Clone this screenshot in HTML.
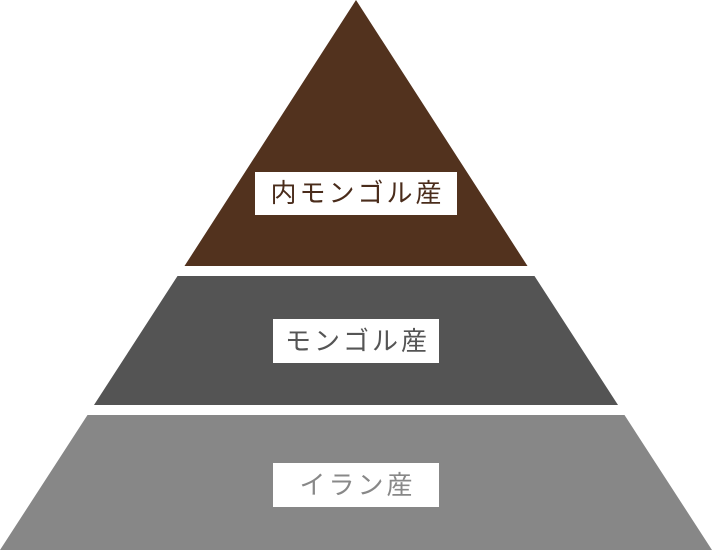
<!DOCTYPE html>
<html><head><meta charset="utf-8"><style>
html,body{margin:0;padding:0;background:#fff;}
body{width:712px;height:550px;position:relative;overflow:hidden;font-family:"Liberation Sans","Noto Sans CJK JP",sans-serif;}
svg{position:absolute;left:0;top:0;}
.b{position:absolute;background:#fff;text-align:center;font-size:26px;letter-spacing:3px;text-indent:3px;}
</style></head><body>
<svg width="712" height="550">
<polygon points="356,0 527.5,266 184.5,266" fill="#52321E"/>
<polygon points="177.5,276 534.5,276 618,405 94,405" fill="#545454"/>
<polygon points="87.5,415 624.5,415 712,550 0,550" fill="#878787"/>
</svg>
<div class="b" style="left:255px;top:172px;width:202px;height:43px;line-height:43px;color:#4a2c1b;">内モンゴル産</div>
<div class="b" style="left:273px;top:319px;width:166px;height:44px;line-height:44px;color:#555;">モンゴル産</div>
<div class="b" style="left:273px;top:463px;width:166px;height:44px;line-height:44px;color:#888;">イラン産</div>
</body></html>
